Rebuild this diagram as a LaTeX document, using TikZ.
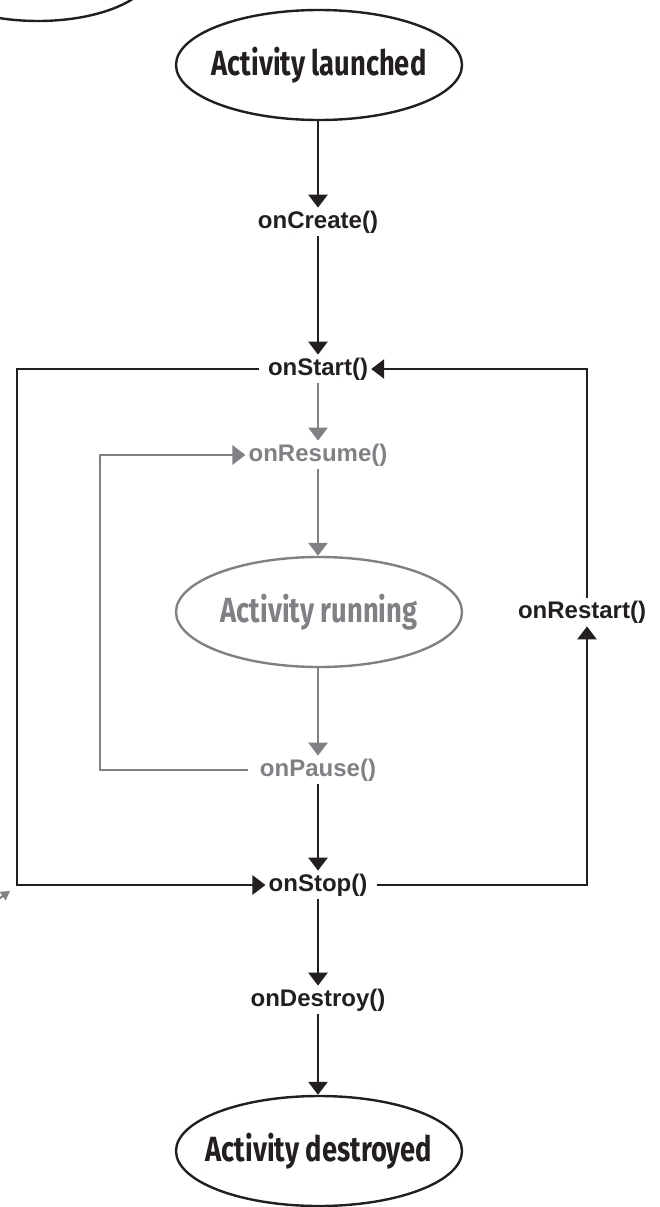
\documentclass[tikz,border=0pt]{standalone}
\usepackage{fontspec}
\setmainfont{Liberation Sans}
\newfontfamily\handfont[FakeStretch=0.78]{Fira Sans}
\usetikzlibrary{arrows.meta,shapes.geometric}
\definecolor{grayc}{RGB}{128,129,132}
\definecolor{inkc}{RGB}{35,31,32}
\newcommand{\fitin}[1]{\makebox[150pt][c]{#1}}
\begin{document}
\begin{tikzpicture}[x=1pt,y=-1pt,
  lbl/.style={font=\fontsize{24}{27}\selectfont\bfseries, text=inkc, inner sep=3pt},
  glbl/.style={lbl, text=grayc},
  state/.style={draw=inkc, line width=2.4pt, ellipse, minimum width=286pt, minimum height=110pt, inner sep=0pt,
    font=\handfont\bfseries\fontsize{35}{38}\selectfont, text=inkc},
  gstate/.style={state, draw=grayc, text=grayc},
  conn/.style={draw=inkc, line width=2.8pt, -{Triangle[width=19pt,length=13pt]}},
  gconn/.style={conn, draw=grayc}]
\useasboundingbox (0,0) rectangle (660,1207);

% fragments cut off by the picture's edge
\draw[draw=inkc, line width=2.4pt] (38,-30) ellipse [x radius=115, y radius=51];
\draw[draw=grayc, line width=2pt, -{Triangle[width=10pt,length=9pt]}] (-10,905) -- (10,891);

\node[state] (launched) at (319,65) {\fitin{Activity launched}};
\node[lbl] (create) at (318,222) {onCreate()};
\node[lbl] (start) at (318,369) {onStart()};
\node[glbl] (resume) at (318,455) {onResume()};
\node[gstate] (running) at (319,612) {\fitin{Activity running}};
\node[glbl] (pause) at (318,770) {onPause()};
\node[lbl] (stop) at (318,885) {onStop()};
\node[lbl] (destroy) at (318,1000) {onDestroy()};
\node[state] (destroyed) at (319,1151) {\fitin{Activity destroyed}};
\node[lbl] (restart) at (582,612) {onRestart()};

\coordinate (leftx) at (17,0);
\coordinate (gleftx) at (100,0);
\coordinate (rightx) at (587,0);

\draw[conn] (launched.south -| create) -- (create.north);
\draw[conn] (create.south) -- (start.north);
\draw[gconn] (start.south) -- (resume.north);
\draw[gconn] (resume.south) -- (running.north -| resume);
\draw[gconn] (running.south -| pause) -- (pause.north);
\draw[conn] (pause.south) -- (stop.north);
\draw[conn] (stop.south) -- (destroy.north);
\draw[conn] (destroy.south) -- (destroyed.north -| destroy);

\draw[conn, shorten <=6pt] (start.west) -- (start.west -| leftx) |- (stop.west);
\draw[gconn, shorten <=9pt] (pause.west) -- (pause.west -| gleftx) |- (resume.west);
\draw[conn, shorten <=6pt] (stop.east) -- (stop.east -| rightx) -- (rightx |- restart.south);
\draw[conn] (rightx |- restart.north) -- (rightx |- start.east) -- (start.east);
\end{tikzpicture}
\end{document}
